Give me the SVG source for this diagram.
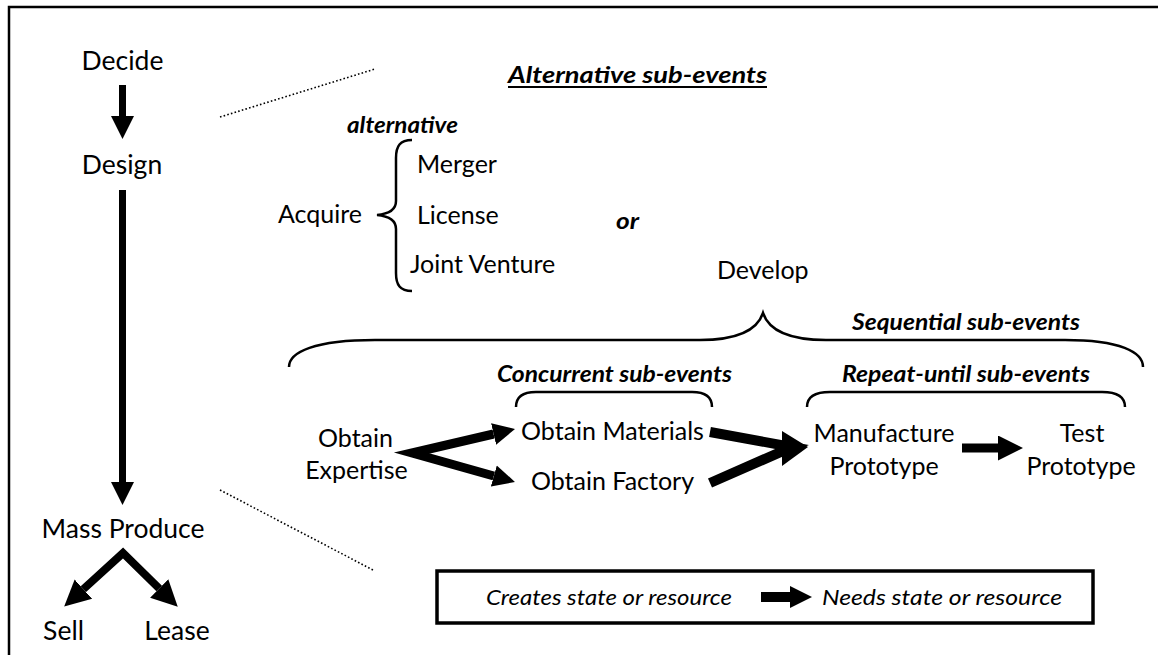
<svg xmlns="http://www.w3.org/2000/svg" width="1158" height="655" viewBox="0 0 1158 655">
<style>
text{font-family:Lato,"Open Sans","Liberation Sans",sans-serif;fill:#000}
.t{font-size:25px}
.tl{font-size:26.5px}
.bi{font-size:22px;font-weight:bold;font-style:italic}
.it{font-size:22px;font-style:italic}
.br{fill:none;stroke:#000;stroke-width:2.5}
.sh{fill:none;stroke:#000;stroke-linejoin:miter;stroke-miterlimit:10}
</style>
<defs>
<marker id="h24" viewBox="0 0 10 10" refX="0" refY="5" markerUnits="userSpaceOnUse" markerWidth="23" markerHeight="24" orient="auto-start-reverse"><path d="M0,0L10,5L0,10z"/></marker>
<marker id="h26" viewBox="0 0 10 10" refX="0" refY="5" markerUnits="userSpaceOnUse" markerWidth="26" markerHeight="28" orient="auto-start-reverse"><path d="M0,0L10,5L0,10z"/></marker>
<marker id="h22" viewBox="0 0 10 10" refX="0" refY="5" markerUnits="userSpaceOnUse" markerWidth="22" markerHeight="23" orient="auto-start-reverse"><path d="M0,0L10,5L0,10z"/></marker>
<marker id="h27" viewBox="0 0 10 10" refX="0" refY="5" markerUnits="userSpaceOnUse" markerWidth="27" markerHeight="25" orient="auto-start-reverse"><path d="M0,0L10,5L0,10z"/></marker>
</defs>
<path d="M9,655V7H1158" fill="none" stroke="#000" stroke-width="2.5"/>
<g id="zoomlines" fill="none" stroke="#000" stroke-width="1.6" stroke-dasharray="1.6 2.2">
<line x1="220" y1="117" x2="375" y2="69"/>
<line x1="220" y1="490" x2="373" y2="570"/>
</g>
<g id="connectors">
<line class="sh" x1="122.5" y1="85" x2="122.5" y2="116" stroke-width="7" marker-end="url(#h24)"/>
<line class="sh" x1="122.5" y1="190" x2="122.5" y2="482" stroke-width="7" marker-end="url(#h24)"/>
<path class="sh" d="M83.4,589.1L123,553L159.2,588.5" stroke-width="8" marker-start="url(#h26)" marker-end="url(#h26)"/>
<path class="sh" d="M493.6,434L412,453L493.8,476" stroke-width="9" marker-start="url(#h22)" marker-end="url(#h22)"/>
<path class="sh" d="M710,432L792,447L710,483" stroke-width="10"/>
<path d="M782,431L808,447L782,466z"/>
<line class="sh" x1="962" y1="448" x2="998" y2="448" stroke-width="9" marker-end="url(#h27)"/>
</g>
<g id="braces">
<path class="br" d="M412,140C400,140 396,146 396,158L396,201C396,210 388,214 377,215C388,216 396,220 396,229L396,273C396,285 400,291 412,291"/>
<path class="br" d="M289,367C289,352 315,340 375,340L700,340C735,340 757,331 763,313C769,331 791,340 826,340L1065,340C1120,340 1143,352 1143,367"/>
<path class="br" d="M516,407C516,397 522,392 536,392L692,392C706,392 712,397 712,407"/>
<path class="br" d="M807,407C807,397 815,392 830,392L1102,392C1117,392 1125,397 1125,407"/>
</g>
<g id="n-decide"><text class="tl" x="122.5" y="69.5" text-anchor="middle">Decide</text></g>
<g id="n-design"><text class="tl" x="122" y="174" text-anchor="middle">Design</text></g>
<g id="n-mass"><text class="tl" x="123" y="538" text-anchor="middle">Mass Produce</text></g>
<g id="n-sell"><text class="tl" x="63.5" y="640" text-anchor="middle">Sell</text></g>
<g id="n-lease"><text class="tl" x="177" y="640" text-anchor="middle">Lease</text></g>
<g id="title"><text class="bi" x="508" y="83" style="font-size:23px" textLength="259" lengthAdjust="spacingAndGlyphs">Alternative sub-events</text>
<line x1="508" y1="87" x2="767" y2="87" stroke="#000" stroke-width="2"/></g>
<g id="l-alternative"><text class="bi" x="347" y="132.5" textLength="111" lengthAdjust="spacingAndGlyphs">alternative</text></g>
<g id="n-acquire"><text class="t" x="320" y="223" text-anchor="middle">Acquire</text></g>
<g id="n-merger"><text class="t" x="417" y="173">Merger</text></g>
<g id="n-license"><text class="t" x="417" y="224">License</text></g>
<g id="n-jv"><text class="t" x="410" y="273">Joint Venture</text></g>
<g id="l-or"><text class="bi" x="616" y="229" textLength="23" lengthAdjust="spacingAndGlyphs">or</text></g>
<g id="n-develop"><text class="t" x="717" y="279">Develop</text></g>
<g id="l-seq"><text class="bi" x="852" y="330" textLength="228" lengthAdjust="spacingAndGlyphs">Sequential sub-events</text></g>
<g id="l-conc"><text class="bi" x="497" y="382" textLength="235" lengthAdjust="spacingAndGlyphs">Concurrent sub-events</text></g>
<g id="l-rep"><text class="bi" x="842" y="382" textLength="248" lengthAdjust="spacingAndGlyphs">Repeat-until sub-events</text></g>
<g id="n-expertise"><text class="t" text-anchor="middle"><tspan x="355.5" y="447">Obtain</tspan><tspan x="356.5" y="479">Expertise</tspan></text></g>
<g id="n-materials"><text class="t" x="612.5" y="440" text-anchor="middle">Obtain Materials</text></g>
<g id="n-factory"><text class="t" x="612.5" y="490" text-anchor="middle">Obtain Factory</text></g>
<g id="n-manufacture"><text class="t" text-anchor="middle"><tspan x="884" y="442">Manufacture</tspan><tspan x="884" y="475">Prototype</tspan></text></g>
<g id="n-test"><text class="t" text-anchor="middle"><tspan x="1082" y="442">Test</tspan><tspan x="1081" y="475">Prototype</tspan></text></g>
<g id="legend">
<rect x="437" y="571" width="656" height="52" fill="none" stroke="#000" stroke-width="3.5"/>
<text class="it" x="486" y="605" textLength="246" lengthAdjust="spacingAndGlyphs">Creates state or resource</text>
<line class="sh" x1="761" y1="597" x2="790" y2="597" stroke-width="10" marker-end="url(#h22)"/>
<text class="it" x="822" y="605" textLength="240" lengthAdjust="spacingAndGlyphs">Needs state or resource</text>
</g>
</svg>
